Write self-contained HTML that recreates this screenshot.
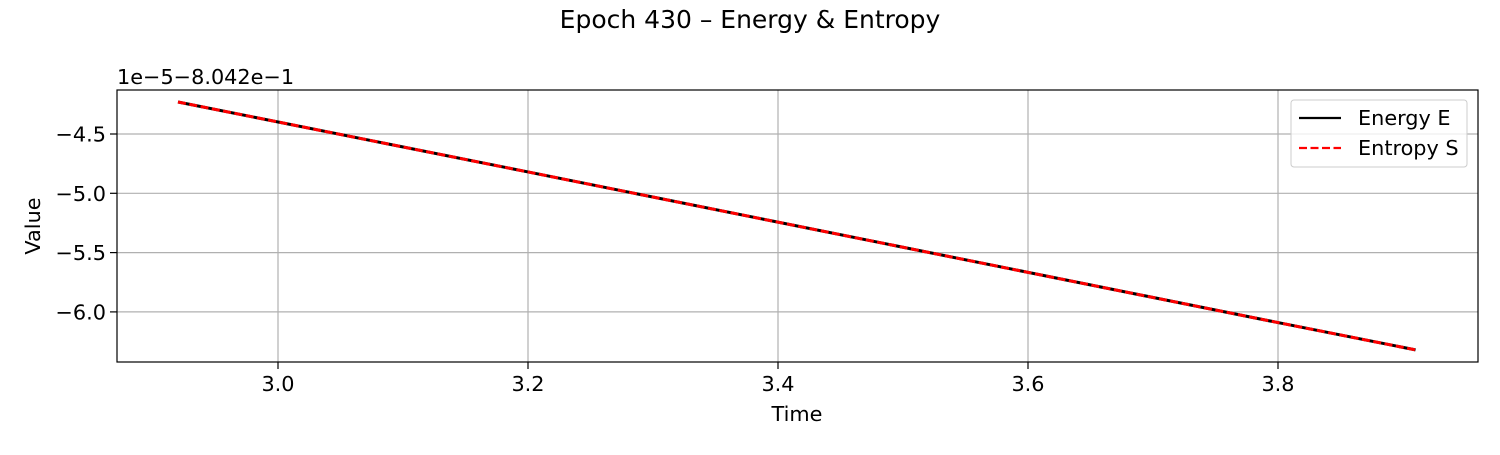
<!DOCTYPE html>
<html><head><meta charset="utf-8"><style>
body{margin:0;background:#fff;font-family:"Liberation Sans","DejaVu Sans",sans-serif}
svg text{font-family:"DejaVu Sans","Liberation Sans",sans-serif;fill:#000}
</style></head><body>
<svg id="c" width="1500" height="450" xmlns="http://www.w3.org/2000/svg">
<rect width="1500" height="450" fill="#fff"/>
<text x="750" y="28" font-size="25" text-anchor="middle">Epoch 430 – Energy &amp; Entropy</text>
<g id="grid"></g>
<g id="series"></g>
<rect x="117" y="90" width="1361" height="272" fill="none" stroke="#000" stroke-width="1.2"/>
<g id="ticks"></g>
<text x="117" y="84" font-size="20.8">1e−5−8.042e−1</text>
<text x="797" y="421" font-size="20.8" text-anchor="middle">Time</text>
<text x="40" y="226" font-size="20.8" text-anchor="middle" transform="rotate(-90 40 226)">Value</text>
<g>
<rect x="1291" y="100" width="176" height="67" rx="3" fill="#fff" fill-opacity="0.8" stroke="#ccc"/>
<line x1="1299" y1="118" x2="1341" y2="118" stroke="#000" stroke-width="2.2"/>
<text x="1358" y="125" font-size="20.8">Energy E</text>
<line x1="1299" y1="148" x2="1341" y2="148" stroke="#f00" stroke-width="2.2" stroke-dasharray="8,3.5"/>
<text x="1358" y="155" font-size="20.8">Entropy S</text>
</g>
</svg>
<script>
const times = [2.92, 3.2, 3.5, 3.8, 3.91];
const energy = [-4.23, -4.82, -5.455, -6.09, -6.32];
const entropy = [-4.23, -4.82, -5.455, -6.09, -6.32];
const xTicks = [3.0, 3.2, 3.4, 3.6, 3.8];
const xTickLabels = ["3.0", "3.2", "3.4", "3.6", "3.8"];
const yTicks = [-4.5, -5.0, -5.5, -6.0];
const yTickLabels = ["−4.5", "−5.0", "−5.5", "−6.0"];
const NS = "http://www.w3.org/2000/svg";
const xs = v => 278 + (v - 3.0) * 1250;
const ys = v => 134 + (-4.5 - v) * 118.6;
function mk(tag, attrs, parent){const e=document.createElementNS(NS,tag);for(const k in attrs)e.setAttribute(k,attrs[k]);parent.appendChild(e);return e;}
const grid=document.getElementById('grid'), ticks=document.getElementById('ticks'), series=document.getElementById('series');
xTicks.forEach((t,i)=>{
  const x=xs(t);
  const g=mk('line',{x1:x,y1:90,x2:x,y2:362,stroke:'#b0b0b0','stroke-width':1.2},grid);
  
  
  const tk=mk('line',{x1:x,y1:362,x2:x,y2:369,stroke:'#000','stroke-width':1.2},ticks);
  
  
  const tx=mk('text',{x:x,y:391,'font-size':20.8,'text-anchor':'middle'},ticks);
  tx.textContent=xTickLabels[i];
  
  
});
yTicks.forEach((t,i)=>{
  const y=ys(t);
  const g=mk('line',{x1:117,y1:y,x2:1478,y2:y,stroke:'#b0b0b0','stroke-width':1.2},grid);
  
  
  const tk=mk('line',{x1:110,y1:y,x2:117,y2:y,stroke:'#000','stroke-width':1.2},ticks);
  
  
  const tx=mk('text',{x:106,y:y+7.5,'font-size':20.8,'text-anchor':'end'},ticks);
  tx.textContent=yTickLabels[i];
  
  
});
const pts = arr => arr.map((v,i)=>xs(times[i])+','+ys(v)).join(' ');
const e=mk('polyline',{points:pts(energy),fill:'none',stroke:'#000','stroke-width':3},series);


const s=mk('polyline',{points:pts(entropy),fill:'none',stroke:'#f00','stroke-width':3,'stroke-dasharray':'8,3.5'},series);


</script>
</body></html>
